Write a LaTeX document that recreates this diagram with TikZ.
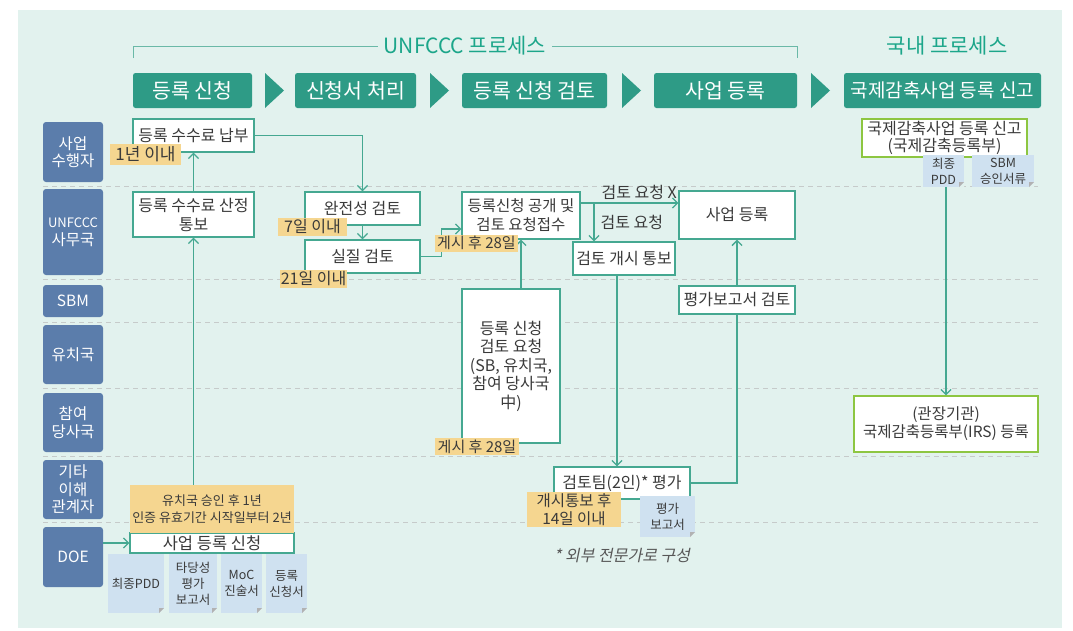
\documentclass[tikz,border=0pt]{standalone}
\usepackage{fontspec}
\setmainfont{Noto Sans CJK KR}
\newfontfamily\slantkr{Noto Sans CJK KR}[FakeSlant=0.2]
\usetikzlibrary{arrows.meta}

\definecolor{panel}{HTML}{E2F2EE}
\definecolor{stage}{HTML}{2E9B86}
\definecolor{titletxt}{HTML}{1CA68A}
\definecolor{lane}{HTML}{5B7DAB}
\definecolor{flow}{HTML}{45A891}
\definecolor{tagfill}{HTML}{F5D690}
\definecolor{docfill}{HTML}{CFE1F0}
\definecolor{kgreen}{HTML}{8DC641}
\definecolor{ink}{HTML}{3A3A3A}
\definecolor{gridline}{HTML}{C6CBCA}

\begin{document}
\begin{tikzpicture}[x=1pt,y=-1pt,
  every node/.style={font=\fontsize{16}{19}\selectfont,text=ink,inner sep=0pt,align=center},
  stagebox/.style={fill=stage,rounded corners=2.5pt,text=white,minimum height=35pt,font=\fontsize{20.5}{22}\selectfont},
  title/.style={text=titletxt,inner xsep=6pt,font=\fontsize{21}{22}\selectfont},
  lanebox/.style={fill=lane,rounded corners=3pt,text=white,minimum width=60pt,font=\fontsize{15.5}{17.5}\selectfont},
  box/.style={draw=flow,fill=white,line width=1.3pt},
  gbox/.style={draw=kgreen,fill=white,line width=1.3pt},
  tag/.style={fill=tagfill},
  doc/.style={fill=docfill,font=\fontsize{12.5}{16}\selectfont,
    path picture={
      \fill[panel] ([xshift=-5pt]path picture bounding box.south east) -- (path picture bounding box.south east) -- ([yshift=5pt]path picture bounding box.south east) -- cycle;
      \fill[black!30] ([xshift=-5pt]path picture bounding box.south east) -- ([yshift=5pt]path picture bounding box.south east) -- ([xshift=-5pt,yshift=5pt]path picture bounding box.south east) -- cycle;}},
  wire/.style={draw=flow,line width=1.3pt},
  >={Straight Barb[length=5pt,width=10pt]}]

\useasboundingbox (0,0) rectangle (1073,630);
\fill[panel] (18,10) rectangle (1062,628);

% process stages
\node[title] (ttlU) at (465,46) {UNFCCC 프로세스};
\node[title] (ttlD) at (947,46) {국내 프로세스};
\draw[flow!80,line width=0.9pt] (133,58) -- (133,46) -- (ttlU.west);
\draw[flow!80,line width=0.9pt] (ttlU.east) -- (797,46) -- (797,58);

\node[stagebox,minimum width=119pt] (s1) at (192.5,90.5) {등록 신청};
\node[stagebox,minimum width=121pt] (s2) at (355.5,90.5) {신청서 처리};
\node[stagebox,minimum width=145pt] (s3) at (534.5,90.5) {등록 신청 검토};
\node[stagebox,minimum width=143pt] (s4) at (725.5,90.5) {사업 등록};
\node[stagebox,minimum width=197pt,font=\fontsize{19}{22}\selectfont] (s5) at (942.5,90.5) {국제감축사업 등록 신고};
\foreach \x in {265,430,622,811}
  \fill[stage] (\x,73) -- (\x+19,90.5) -- (\x,108) -- cycle;

% lanes
\foreach \y in {186,279,322,388,456,522}
  \draw[gridline,line width=1pt,dash pattern=on 5pt off 4pt] (43,\y) -- (1040,\y);

\node[lanebox,minimum height=60pt] (l1) at (73,152) {사업\\수행자};
\node[lanebox,minimum height=86pt] (l2) at (73,232) {{\fontsize{13}{17.5}\selectfont UNFCCC}\\사무국};
\node[lanebox,minimum height=32pt] (l3) at (73,301) {SBM};
\node[lanebox,minimum height=59pt] (l4) at (73,354.5) {유치국};
\node[lanebox,minimum height=59pt] (l5) at (73,422.5) {참여\\당사국};
\node[lanebox,minimum height=59pt] (l6) at (73,489.5) {기타\\이해\\관계자};
\node[lanebox,minimum height=60pt] (l7) at (73,557) {DOE};

% steps
\node[box,minimum width=121pt,minimum height=33pt] (pay) at (193.5,135.5) {등록 수수료 납부};
\node[box,minimum width=121pt,minimum height=45pt] (notify) at (193.5,214.5) {등록 수수료 산정\\통보};
\node[box,minimum width=115pt,minimum height=33pt] (complete) at (362.5,208.5) {완전성 검토};
\node[box,minimum width=115pt,minimum height=33pt] (subst) at (362.5,256.5) {실질 검토};
\node[box,minimum width=118pt,minimum height=47pt,font=\fontsize{15.5}{19}\selectfont] (open) at (521,215.5) {등록신청 공개 및\\검토 요청접수};
\node[box,minimum width=102pt,minimum height=33pt] (start) at (624,258.5) {검토 개시 통보};
\node[box,minimum width=116pt,minimum height=48pt] (reg) at (737,215) {사업 등록};
\node[box,minimum width=116pt,minimum height=28pt] (evalrev) at (737,300) {평가보고서 검토};
\node[box,minimum width=98pt,minimum height=154pt,font=\fontsize{16}{18.5}\selectfont] (req) at (511,366) {등록 신청\\검토 요청\\(SB, 유치국,\\참여 당사국\\中)};
\node[box,minimum width=136pt,minimum height=32pt] (team) at (622,483) {검토팀(2인)* 평가};
\node[box,minimum width=164pt,minimum height=20pt,font=\fontsize{16.5}{17}\selectfont] (apply) at (212,543) {사업 등록 신청};
\node[gbox,minimum width=165pt,minimum height=38pt,font=\fontsize{16}{17}\selectfont] (report) at (944.5,138) {국제감축사업 등록 신고\\(국제감축등록부)};
\node[gbox,minimum width=184pt,minimum height=56pt,font=\fontsize{15.5}{18}\selectfont] (irs) at (946,424) {(관장기관)\\국제감축등록부(IRS) 등록};

% connectors
\coordinate (fork) at (594,203);
\draw[wire,->] (notify) -- (pay);
\draw[wire,->] (l7.east |- apply.west) -- (apply.west);
\draw[wire,->] (pay.east) -| (complete.north);
\draw[wire,->] (complete) -- (subst);
\draw[wire,->] (subst.east) -- ++(21,0) |- ([yshift=-13.5pt]open.west);
\draw[wire,->] (req.north -| open.south) -- (open.south);
\draw[wire,->] (open.east |- fork) -- node[above=3pt,pos=0.6] {검토 요청 X} (fork -| reg.west);
\draw[wire,->] (fork) -- node[right=6pt] {검토 요청} (fork |- start.north);
\draw[wire,->] ([xshift=-7pt]start.south) -- ([xshift=-7pt]start.south |- team.north);
\draw[wire] (team.east) -| (evalrev.south);
\draw[wire,->] (evalrev) -- (reg);
\draw[wire,->] (report.south -| irs.north) -- (irs.north);

% time limits
\node[tag,minimum width=164pt,minimum height=48pt,font=\fontsize{13}{17}\selectfont] (hostok) at (212,509) {유치국 승인 후 1년\\인증 유효기간 시작일부터 2년};
\draw[wire,->] (hostok.north -| notify.south) -- (notify.south);
\node[tag,minimum width=71pt,minimum height=21pt,font=\fontsize{17}{19}\selectfont] (t1y) at (145.5,154.5) {1년 이내};
\node[tag,minimum width=69pt,minimum height=18pt] (t7d) at (312.5,226.5) {7일 이내};
\node[tag,minimum width=67pt,minimum height=18pt] (t21d) at (313.5,278.5) {21일 이내};
\node[tag,minimum width=83pt,minimum height=17pt,font=\fontsize{15}{17}\selectfont] (t28a) at (476.5,243) {게시 후 28일};
\node[tag,minimum width=84pt,minimum height=17pt,font=\fontsize{15}{17}\selectfont] (t28b) at (477,446.5) {게시 후 28일};
\node[tag,minimum width=94pt,minimum height=35pt,font=\fontsize{15.5}{18}\selectfont] (t14d) at (574,509.5) {개시통보 후\\14일 이내};

% documents
\node[doc,minimum width=56pt,minimum height=59pt] (d1) at (136,583.5) {최종PDD};
\node[doc,minimum width=48pt,minimum height=59pt] (d2) at (193,583.5) {타당성\\평가\\보고서};
\node[doc,minimum width=41pt,minimum height=59pt] (d3) at (241.5,583.5) {MoC\\진술서};
\node[doc,minimum width=41pt,minimum height=59pt] (d4) at (286.5,583.5) {등록\\신청서};
\node[doc,minimum width=55pt,minimum height=41pt] (d5) at (667.5,516.5) {평가\\보고서};
\node[doc,minimum width=41pt,minimum height=32pt] (d6) at (943.5,171) {최종\\PDD};
\node[doc,minimum width=62pt,minimum height=32pt] (d7) at (1003,171) {SBM\\승인서류};

\node[text=ink!85,font=\slantkr\fontsize{16}{19}\selectfont] (note) at (622,556) {* 외부 전문가로 구성};

\end{tikzpicture}
\end{document}
